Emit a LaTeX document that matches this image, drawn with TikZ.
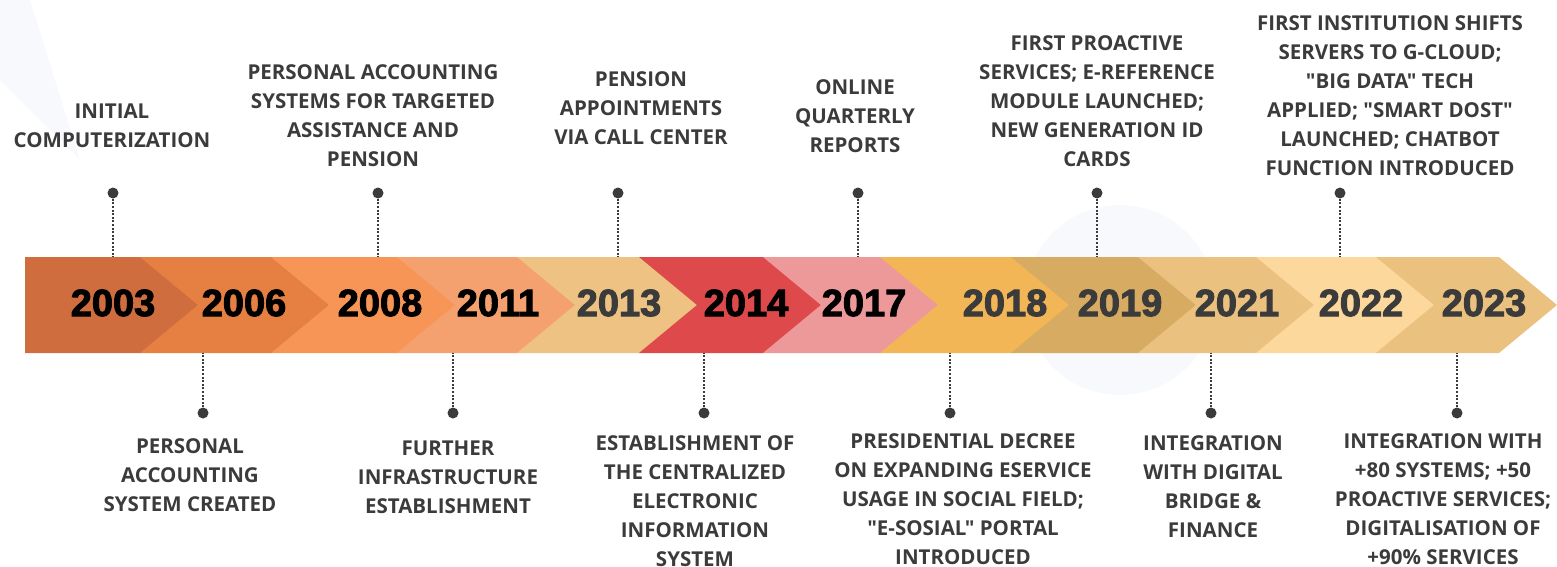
\documentclass[tikz,border=0pt]{standalone}
\usepackage{fontspec}
\setmainfont{Open Sans}
\newfontfamily\notefont{Open Sans}
\newfontfamily\yearfont[FakeBold=2.5]{Liberation Sans Bold}
\usetikzlibrary{positioning}

\definecolor{ink}{HTML}{3B3B3B}
\definecolor{haze}{HTML}{F7F9FC}
\definecolor{seg03}{HTML}{D06D3E}
\definecolor{seg06}{HTML}{E57F42}
\definecolor{seg08}{HTML}{F79557}
\definecolor{seg11}{HTML}{F5A16F}
\definecolor{seg13}{HTML}{EEC283}
\definecolor{seg14}{HTML}{DE4A4B}
\definecolor{seg17}{HTML}{ED9999}
\definecolor{seg18}{HTML}{F2B656}
\definecolor{seg19}{HTML}{D8AB63}
\definecolor{seg21}{HTML}{EBC17F}
\definecolor{seg22}{HTML}{FCD89C}
\definecolor{seg23}{HTML}{EBC17F}

\begin{document}
\begin{tikzpicture}[x=1pt, y=-1pt,
    note/.style={font=\notefont\bfseries\fontsize{20.5}{29}\selectfont, text=ink, align=center, inner sep=0pt, anchor=north},
    dot/.style={circle, fill=ink, inner sep=0pt, minimum size=11pt},
    leader/.style={ink, line width=2pt, dash pattern=on 2pt off 1.6pt},
    year/.style={font=\yearfont\fontsize{38}{38}\selectfont, inner sep=0pt}]
    \useasboundingbox (0,0) rectangle (1557,567);

    % Faint backdrop
    \fill[haze] (0,0) -- (30,0) -- (80,160) -- (0,80) -- cycle;
    \fill[haze] (1120,300) circle (95);

    % Band of chevrons
    \coordinate (bandtop) at (0,257);
    \coordinate (bandbot) at (0,353);
    \fill[seg03] (25,257) -- (141,257) -- (199,305) -- (141,353) -- (25,353) -- cycle;
    \foreach \lt/\lp/\rt/\rp/\col in {141/199/272/330/seg06, 272/330/398/456/seg08,
        398/456/518/576/seg11, 518/576/640/698/seg13, 640/698/764/822/seg14,
        764/822/881/939/seg17, 881/939/1012/1070/seg18, 1012/1070/1139/1197/seg19,
        1139/1197/1257/1315/seg21, 1257/1315/1377/1435/seg22, 1377/1435/1499/1557/seg23}
        \fill[\col] (\lt-1,257) -- (\rt,257) -- (\rp,305) -- (\rt,353) -- (\lt-1,353) -- (\lp-1,305) -- cycle;

    % Years
    \foreach \yr/\xc/\tc in {2003/113/black, 2006/244/black, 2008/380/black, 2011/498/black,
        2013/619/ink, 2014/746/black, 2017/864/black, 2018/1005/ink, 2019/1120/ink,
        2021/1237/ink, 2022/1361/ink, 2023/1484/ink}
        \node[year, text=\tc] (y\yr) at (\xc,303) {\yr};

    % Markers above the band
    \foreach \yr/\xc in {2003/113, 2008/378, 2013/618, 2017/858, 2019/1097, 2022/1340} {
        \node[dot] (d\yr) at (\xc,193) {};
        \draw[leader] (d\yr) -- (d\yr |- bandtop);
    }

    % Markers below the band
    \foreach \yr/\xc in {2006/203, 2011/453, 2014/704, 2018/950, 2021/1211, 2023/1457} {
        \node[dot] (d\yr) at (\xc,413) {};
        \draw[leader] (d\yr) -- (d\yr |- bandbot);
    }

    % Milestones
    \node[note] (t2003) at (112,103.5) {INITIAL\\COMPUTERIZATION};
    \node[note] (t2008) at (373,64.5) {PERSONAL ACCOUNTING\\SYSTEMS FOR TARGETED\\ASSISTANCE AND\\PENSION};
    \node[note] (t2013) at (641,71.5) {PENSION\\APPOINTMENTS\\VIA CALL CENTER};
    \node[note] (t2017) at (855,79.5) {ONLINE\\QUARTERLY\\REPORTS};
    \node[note] (t2019) at (1097,35.5) {FIRST PROACTIVE\\SERVICES; E-REFERENCE\\MODULE LAUNCHED;\\NEW GENERATION ID\\CARDS};
    \node[note] (t2022) at (1390,15.5) {FIRST INSTITUTION SHIFTS\\SERVERS TO G-CLOUD;\\"BIG DATA" TECH\\APPLIED; "SMART DOST"\\LAUNCHED; CHATBOT\\FUNCTION INTRODUCED};

    \node[note] (t2006) at (190,438.5) {PERSONAL\\ACCOUNTING\\SYSTEM CREATED};
    \node[note] (t2011) at (448,440.5) {FURTHER\\INFRASTRUCTURE\\ESTABLISHMENT};
    \node[note] (t2014) at (695,435.5) {ESTABLISHMENT OF\\THE CENTRALIZED\\ELECTRONIC\\INFORMATION\\SYSTEM};
    \node[note] (t2018) at (963,433.5) {PRESIDENTIAL DECREE\\ON EXPANDING ESERVICE\\USAGE IN SOCIAL FIELD;\\"E-SOSIAL" PORTAL\\INTRODUCED};
    \node[note] (t2021) at (1213,435.5) {INTEGRATION\\WITH DIGITAL\\BRIDGE \&\\FINANCE};
    \node[note] (t2023) at (1443,433.5) {INTEGRATION WITH\\+80 SYSTEMS; +50\\PROACTIVE SERVICES;\\DIGITALISATION OF\\+90\% SERVICES};
\end{tikzpicture}
\end{document}
